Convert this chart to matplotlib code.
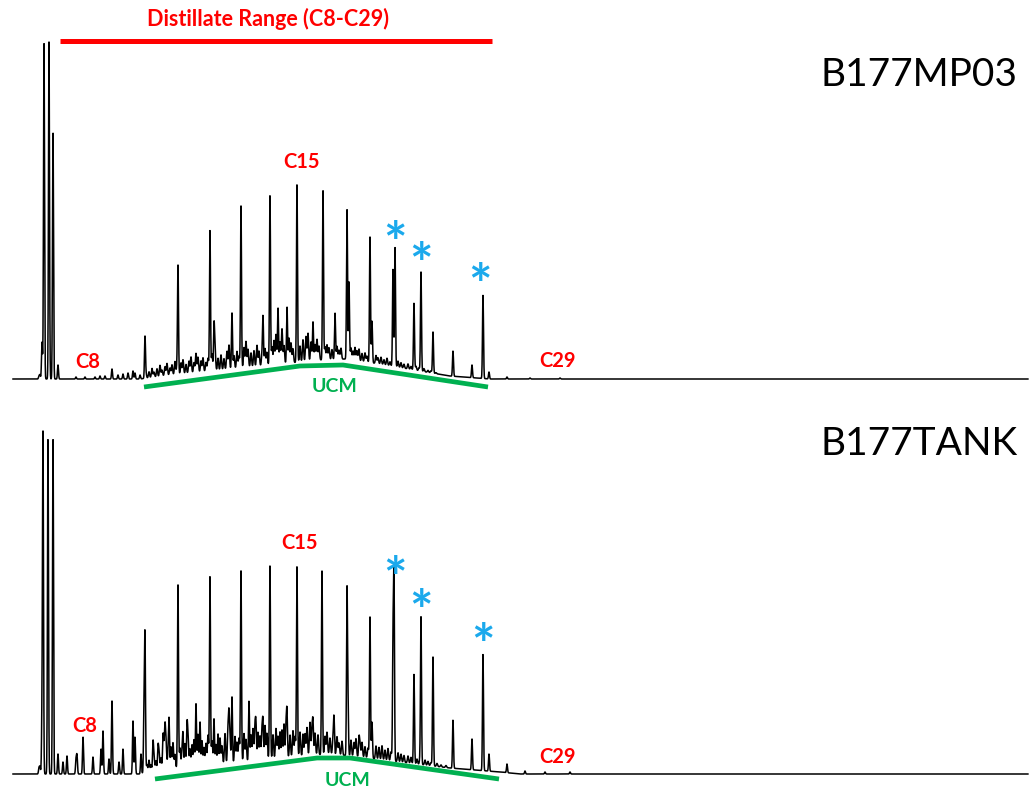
"""
GC-FID chromatograms of two fuel samples (B177MP03 and B177TANK),
distillate range C8-C29 with the unresolved complex mixture (UCM) hump.
"""

import matplotlib
matplotlib.use("Agg")
import matplotlib.pyplot as plt
import numpy as np

plt.rcParams["font.family"] = ["Lato", "DejaVu Sans"]

# --------------------------------------------------------------------------- #
# Data (retention axis and signal in arbitrary units)
# --------------------------------------------------------------------------- #
RT_START, RT_END = 13.0, 1028.0

# --- B177MP03 -------------------------------------------------------------- #
mp03_peak_rt = [39, 40, 42, 44, 49, 53, 58, 76, 85, 95, 100, 105, 112, 118,
                123, 128, 133, 135, 140, 145,
                178, 210, 214, 232, 241, 263, 270, 278, 287, 297, 313, 323,
                335, 347, 349, 370, 372, 393, 395, 414, 421, 433, 453, 472,
                483, 489, 507, 530, 560]
mp03_peak_h = [3, 4, 37, 337, 337, 247, 14, 2, 2, 2, 3, 3, 10, 4,
               5, 6, 8, 6, 4, 42,
               112, 149, 52, 66, 173, 61, 184, 71, 72, 195, 57, 189,
               66, 170, 97, 142, 58, 110, 132, 76, 107, 47, 28, 14,
               84, 7, 2, 1, 1]
mp03_noise_rt = [146, 149, 152, 154, 157, 160, 162, 165, 167, 170, 172, 175,
                 177, 181, 183, 186, 189, 191, 194, 196, 198, 201, 203, 206,
                 208, 212, 215, 218, 221, 224, 227, 229, 234, 237, 239, 244,
                 246, 248, 251, 254, 257, 259, 262, 265, 267, 272, 274, 276,
                 280, 282, 284, 289, 291, 293, 300, 303, 306, 308, 311, 315,
                 317, 319, 325, 327, 329, 332, 337, 339, 341, 351, 353, 355,
                 357, 359, 362, 365, 367, 376, 378, 381, 384, 387, 390, 398,
                 401, 404, 408, 411, 416, 419, 424, 428, 431, 436]
mp03_noise_h = [4, 6, 9, 5, 8, 11, 6, 9, 12, 7, 10, 13,
                8, 11, 14, 9, 12, 16, 10, 19, 15, 11, 14, 9,
                13, 17, 22, 12, 15, 11, 18, 24, 13, 17, 12, 20,
                26, 18, 14, 16, 21, 15, 11, 17, 13, 18, 24, 30,
                22, 35, 18, 25, 20, 14, 16, 22, 25, 28, 19, 16,
                21, 14, 13, 15, 12, 10, 13, 9, 11, 12, 9, 13,
                10, 12, 8, 9, 6, 8, 6, 7, 5, 7, 4, 6,
                5, 4, 5, 3, 4, 3, 3, 2, 2, 1]
mp03_hump_rt = [140, 170, 220, 270, 320, 345, 380, 420, 450, 490]
mp03_hump_h = [0, 4, 9, 14, 19, 20, 15, 8, 3, 0]
mp03_ucm_rt = [144, 300, 343, 488]
mp03_ucm_y = [-8, 13, 14, -8]

# --- B177TANK -------------------------------------------------------------- #
tank_peak_rt = [39, 40, 42, 43, 48, 53, 58, 63, 67, 76, 77, 83, 93, 101, 103,
                109, 112, 119, 123, 133, 135, 141, 144, 145,
                153, 158, 163, 165, 169, 178, 183, 187, 196, 200, 210, 214,
                218, 229, 232, 241, 249, 256, 263, 270, 280, 284, 287, 297,
                303, 313, 322, 334, 347, 348, 359, 370, 372, 393, 394, 414,
                421, 433, 453, 472, 483, 489, 507, 525, 545, 570]
tank_peak_h = [6, 7, 52, 336, 336, 336, 20, 12, 18, 14, 18, 37, 17, 25, 43,
               15, 73, 12, 25, 53, 37, 20, 65, 135,
               30, 25, 35, 40, 53, 189, 38, 45, 70, 52, 198, 55,
               40, 52, 77, 203, 73, 45, 48, 209, 42, 50, 58, 208,
               40, 49, 203, 55, 181, 67, 35, 157, 52, 127, 192, 100,
               156, 117, 54, 35, 120, 20, 10, 3, 2, 2]
tank_noise_rt = [147, 149, 151, 154, 156, 159, 161, 164, 166, 168, 171, 173,
                 175, 180, 182, 185, 188, 190, 192, 194, 198, 202, 204, 206,
                 208, 212, 216, 220, 222, 225, 228, 230, 235, 237, 239, 244,
                 246, 251, 253, 255, 258, 260, 262, 265, 267, 273, 276, 278,
                 282, 286, 290, 293, 295, 300, 305, 307, 310, 312, 315, 318,
                 325, 327, 330, 333, 337, 339, 342, 351, 354, 356, 360, 362,
                 365, 368, 376, 379, 382, 385, 388, 391, 398, 401, 404, 408,
                 411, 417, 420, 425, 428, 431, 437, 441, 446]
tank_noise_h = [8, 12, 7, 14, 10, 18, 12, 20, 28, 15, 22, 26,
                14, 20, 16, 24, 30, 18, 22, 27, 32, 25, 18, 22,
                30, 24, 20, 26, 18, 30, 34, 22, 26, 20, 24, 28,
                22, 26, 32, 35, 28, 24, 30, 34, 26, 24, 30, 22,
                28, 32, 22, 26, 20, 24, 22, 28, 33, 26, 22, 20,
                18, 22, 16, 15, 18, 12, 14, 16, 14, 18, 13, 15,
                11, 10, 13, 12, 14, 10, 12, 9, 9, 8, 7, 7,
                6, 5, 5, 5, 4, 3, 3, 2, 2]
tank_hump_rt = [140, 160, 200, 250, 300, 330, 360, 400, 450, 500, 520]
tank_hump_h = [0, 4, 8, 13, 18, 20, 17, 12, 6, 2, 0]
tank_ucm_rt = [155, 317, 350, 499]
tank_ucm_y = [-5, 16, 16, -5]

# --------------------------------------------------------------------------- #
# Styling
# --------------------------------------------------------------------------- #
RED = "#FF0000"
GREEN = "#00B050"
BLUE = "#1BA9EC"
STAR_DROP = 14     # Lato's asterisk sits high in the em box


def build_trace(rt, peak_rt, peak_h, noise_rt, noise_h, hump_rt, hump_h):
    """Sum of narrow peaks sitting on the UCM hump."""
    hump = np.interp(rt, hump_rt, hump_h, left=0, right=0)
    y = hump.copy()
    for p, h in zip(peak_rt, peak_h):
        base = np.interp(p, hump_rt, hump_h, left=0, right=0)
        y += max(h - base, 0) * np.exp(-0.5 * ((rt - p) / 0.5) ** 2)
    for p, h in zip(noise_rt, noise_h):
        y += h * np.exp(-0.5 * ((rt - p) / 0.6) ** 2)
    return y


def draw_panel(ax, trace, ucm_rt, ucm_y, name, labels, stars, ucm_xy):
    ax.plot(rt, trace, color="black", lw=1.1)
    ax.plot(ucm_rt, ucm_y, color=GREEN, lw=3.4, solid_capstyle="butt")
    ax.text(*ucm_xy, "UCM", color=GREEN, fontsize=14, fontweight="bold",
            ha="center", va="center")
    for txt, (x, y) in labels.items():
        ax.text(x, y, txt, color=RED, fontsize=14.5, fontweight="bold",
                ha="center", va="center")
    for x, y in stars:
        ax.text(x, y - STAR_DROP, "*", color=BLUE, fontsize=40,
                fontweight="bold", ha="center", va="center")
    ax.text(919, name[1], name[0], fontsize=28, ha="center", va="center")
    ax.set_xlim(0, 1030)
    ax.axis("off")


rt = np.arange(RT_START, RT_END, 0.15)
trace_mp03 = build_trace(rt, mp03_peak_rt, mp03_peak_h, mp03_noise_rt,
                         mp03_noise_h, mp03_hump_rt, mp03_hump_h)
trace_tank = build_trace(rt, tank_peak_rt, tank_peak_h, tank_noise_rt,
                         tank_noise_h, tank_hump_rt, tank_hump_h)

fig = plt.figure(figsize=(10.30, 7.88), dpi=100)
ax_top = fig.add_axes([0, 0.5, 1, 0.5])
ax_bot = fig.add_axes([0, 0.0, 1, 0.5])
ax_top.set_ylim(-15, 379)
ax_bot.set_ylim(-14, 380)

draw_panel(ax_top, trace_mp03, mp03_ucm_rt, mp03_ucm_y, ("B177MP03", 304),
           {"C8": (88, 17), "C15": (301, 217), "C29": (558, 18)},
           [(395, 147), (421, 126), (480, 105)], (335, -7))
draw_panel(ax_bot, trace_tank, tank_ucm_rt, tank_ucm_y, ("B177TANK", 330),
           {"C8": (85, 48), "C15": (299, 231), "C29": (558, 17)},
           [(395, 207), (421, 174), (483, 140)], (348, -6))

# distillate range bar over the top trace
ax_top.plot([60, 492], [338, 338], color=RED, lw=3.6, solid_capstyle="butt")
ax_top.text(268, 360, "Distillate Range (C8-C29)", color=RED, fontsize=15.5,
            fontweight="bold", ha="center", va="center")

fig.savefig("out.png", dpi=100)
